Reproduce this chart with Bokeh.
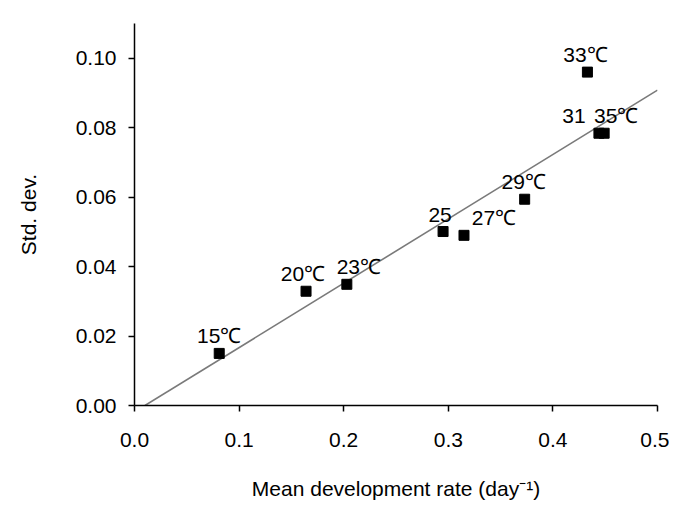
from bokeh.plotting import figure
from bokeh.models import ColumnDataSource, LabelSet, Range1d, FixedTicker
from bokeh.core.properties import value
from bokeh.embed import file_html
from bokeh.resources import INLINE

# data
rate = [0.081, 0.164, 0.203, 0.295, 0.315, 0.373, 0.444, 0.449, 0.433]
sd = [0.0150, 0.0329, 0.0349, 0.0501, 0.0490, 0.0594, 0.0784, 0.0784, 0.0960]
labels = ["15℃", "20℃", "23℃", "25", "27℃", "29℃", "31", "35℃", "33℃"]
fit_x = [0.010, 0.500]
fit_y = [0.000, 0.0908]
x_ticks = [0.0, 0.1, 0.2, 0.3, 0.4, 0.5]
y_ticks = [0.00, 0.02, 0.04, 0.06, 0.08, 0.10]

# label screen offsets (px)
lab_dx = [0, -3, 12, -3, 30, -1, -25, 12, -2]

FONT = "Liberation Sans"

p = figure(width=669, height=509, output_backend="svg", toolbar_location=None,
           x_range=Range1d(0.0, 0.5), y_range=Range1d(0.0, 0.110),
           min_border_left=134, min_border_right=12, min_border_top=23,
           min_border_bottom=104)
p.outline_line_color = None
p.xgrid.visible = False
p.ygrid.visible = False

p.line(fit_x, fit_y, line_color="#7a7a7a", line_width=1.6)
p.scatter(rate, sd, marker="square", size=10, fill_color="black", line_color="black")

src = ColumnDataSource(dict(x=rate, y=sd, t=labels, dx=lab_dx))
ls = LabelSet(x="x", y="y", text="t", x_offset="dx", y_offset=10, source=src,
              text_align="center", text_baseline="alphabetic",
              text_font=value(FONT), text_font_size=value("21px"),
              text_color="black")
p.add_layout(ls)

for ax in (p.xaxis[0], p.yaxis[0]):
    ax.axis_line_color = "black"
    ax.axis_line_width = 1.5
    ax.major_tick_line_color = "black"
    ax.major_tick_line_width = 1.5
    ax.major_tick_out = 6
    ax.major_tick_in = 0
    ax.minor_tick_line_color = None
    ax.major_label_text_font = FONT
    ax.major_label_text_font_size = "21px"
    ax.major_label_text_color = "black"
    ax.axis_label_text_font = FONT
    ax.axis_label_text_font_size = "21px"
    ax.axis_label_text_font_style = "normal"
    ax.axis_label_text_color = "black"

p.xaxis.ticker = FixedTicker(ticks=x_ticks)
p.yaxis.ticker = FixedTicker(ticks=y_ticks)
p.xaxis.major_label_overrides = {t: f"{t:.1f}" for t in x_ticks}
p.yaxis.major_label_overrides = {t: f"{t:.2f}" for t in y_ticks}
p.xaxis.axis_label = "Mean development rate (day⁻¹)"
p.yaxis.axis_label = "Std. dev."
p.xaxis.major_label_standoff = 21
p.yaxis.major_label_standoff = 12
p.xaxis.axis_label_standoff = 27
p.yaxis.axis_label_standoff = 33

open("out.html", "w").write(file_html(p, INLINE))
